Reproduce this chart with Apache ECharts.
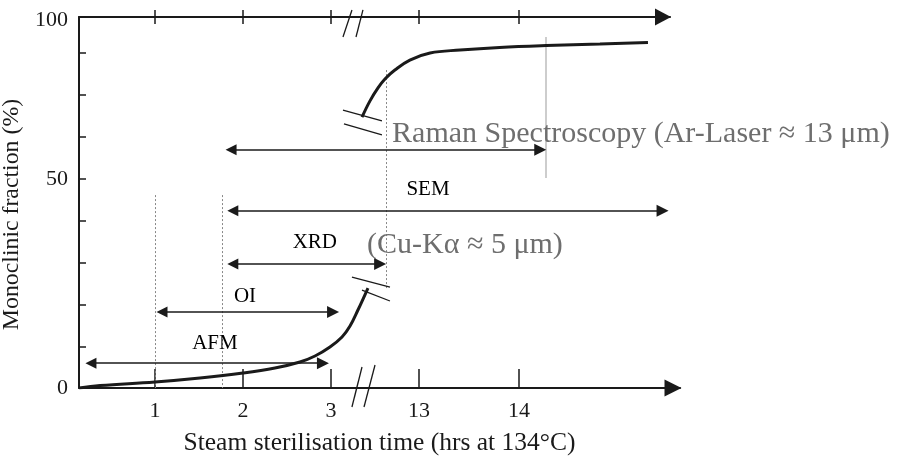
<!DOCTYPE html>
<html>
<head>
<meta charset="utf-8">
<script src="https://cdn.jsdelivr.net/npm/echarts@6/dist/echarts.min.js"></script>
<style>
html,body{margin:0;padding:0;background:#fff;}
#chart{width:899px;height:457px;}
</style>
</head>
<body>
<div id="chart"></div>
<script>
// ---- data (schematic axis units) ----
const xTickPos = [0.864, 1.864, 2.864, 3.864, 5.0];
const xTickLabels = ['1', '2', '3', '13', '14'];
const yTickPos = [0, 11.1, 22.4, 33.7, 45, 56.3, 67.7, 79, 90.3, 100];
const yLabelPos = [0, 56.3, 99];
const yLabelText = ['0', '50', '100'];

const lowerCurve = [[0,0],[0.239,0.67],[0.864,1.62],[1.375,2.70],[1.864,4.04],[2.227,5.39],[2.511,7.01],[2.682,8.63],[2.852,11.05],[2.989,13.75],[3.08,16.71],[3.17,21.02],[3.284,26.95]];
const upperCurve = [[3.216,73.0],[3.307,77.4],[3.398,80.9],[3.477,83.3],[3.59,85.7],[3.76,88.4],[3.99,90.3],[4.33,91.1],[4.78,91.8],[5.31,92.3],[5.92,92.7],[6.466,93.1]];

const rangeNames  = ['Raman', 'SEM', 'XRD', 'OI', 'AFM'];
const rangeStart  = [1.66, 1.68, 1.68, 0.875, 0.068];
const rangeEnd    = [5.31, 6.70, 3.49, 2.955, 2.84];
const rangeLevel  = [64.2, 47.8, 33.4, 20.5, 6.7];

const labelTexts = ['SEM', 'XRD', 'OI', 'AFM'];
const labelX     = [3.966, 2.68, 1.886, 1.545];
const labelY     = [53.6, 39.1, 24.8, 11.9];

const noteTexts = ['Raman Spectroscopy (Ar-Laser \u2248 13 \u03bcm)', '(Cu-K\u03b1 \u2248 5 \u03bcm)'];
const noteX     = [6.386, 4.386];
const noteY     = [68.3, 38.5];

const dottedGuides = [[[0.864,52],[0.864,0]], [[1.63,52],[1.63,0]], [[3.49,85.7],[3.49,26.4]]];
const solidGuides  = [[[5.31,94.6],[5.31,56.6]]];

const breakMarks = [
  [[3.102,-5.12],[3.216,5.66]], [[3.239,-5.12],[3.364,6.2]],
  [[3.0,94.6],[3.102,101.9]], [[3.148,94.6],[3.227,101.9]],
  [[3.102,29.9],[3.534,27.2]], [[3.216,26.4],[3.534,23.45]],
  [[3.0,74.9],[3.443,72.0]], [[3.011,71.2],[3.443,68.2]]
];

// ---- chart ----
const SERIF = 'Liberation Serif';
const INK = '#1a1a1a';
const HEAD_INSET = 0.068; // keep triangle tips on the range ends (half a head length)
function fmtX(v){ for (let i=0;i<xTickPos.length;i++){ if (Math.abs(v-xTickPos[i])<1e-6) return xTickLabels[i]; } return ''; }
function fmtY(v){ for (let i=0;i<yLabelPos.length;i++){ if (Math.abs(v-yLabelPos[i])<1e-6) return yLabelText[i]; } return ''; }

const arrows = rangeNames.map((n,i)=>({name:n, coords:[[rangeStart[i]+HEAD_INSET,rangeLevel[i]],[rangeEnd[i]-HEAD_INSET,rangeLevel[i]]]}));
const labels = labelTexts.map((t,i)=>({name:t, value:[labelX[i],labelY[i]]}));
const notes = noteTexts.map((t,i)=>({name:t, value:[noteX[i],noteY[i]]}));

const chart = echarts.init(document.getElementById('chart'), null, {renderer:'canvas'});
chart.setOption({
  animation:false,
  backgroundColor:'#fff',
  grid:[
    {left:79, top:17, right:219, bottom:69, containLabel:false, outerBoundsMode:'none'},
    {left:79, top:17, right:229, bottom:69, containLabel:false, outerBoundsMode:'none'}
  ],
  xAxis:[
    {type:'value', gridIndex:0, min:0, max:6.83, position:'bottom',
     name:'Steam sterilisation time (hrs at 134\u00b0C)', nameLocation:'middle', nameGap:42,
     nameTextStyle:{fontFamily:SERIF, fontSize:25.5, color:INK},
     axisLine:{show:true, onZero:false, symbol:['none','triangle'], symbolSize:[17,17], symbolOffset:[0,-7], lineStyle:{color:INK, width:2}},
     axisTick:{show:true, inside:true, length:19, customValues:xTickPos, lineStyle:{color:INK, width:1.5}},
     axisLabel:{show:true, customValues:xTickPos, formatter:fmtX, margin:12, fontFamily:SERIF, fontSize:22, color:INK},
     splitLine:{show:false}},
    {type:'value', gridIndex:1, min:0, max:6.716, position:'top',
     axisLine:{show:true, onZero:false, symbol:['none','triangle'], symbolSize:[17,16], symbolOffset:[0,-7], lineStyle:{color:INK, width:2}},
     axisTick:{show:true, inside:false, length:7, customValues:xTickPos, lineStyle:{color:INK, width:1.5}},
     axisLabel:{show:false}, splitLine:{show:false}},
    {type:'value', gridIndex:1, min:0, max:6.716, position:'top',
     axisLine:{show:false, onZero:false},
     axisTick:{show:true, inside:true, length:7, customValues:xTickPos, lineStyle:{color:INK, width:1.5}},
     axisLabel:{show:false}, splitLine:{show:false}}
  ],
  yAxis:[
    {type:'value', gridIndex:0, min:0, max:100,
     name:'Monoclinic fraction (%)', nameLocation:'middle', nameGap:47, nameRotate:90,
     nameTextStyle:{fontFamily:SERIF, fontSize:23.8, color:INK, padding:[0,24,0,0]},
     axisLine:{show:true, onZero:false, lineStyle:{color:INK, width:2}},
     axisTick:{show:true, inside:true, length:7, customValues:yTickPos, lineStyle:{color:INK, width:1.5}},
     axisLabel:{show:true, customValues:yLabelPos, formatter:fmtY, margin:11, fontFamily:SERIF, fontSize:22, color:INK, verticalAlign:'middle', padding:[6,0,0,0]},
     splitLine:{show:false}},
    {type:'value', gridIndex:1, min:0, max:100, show:false}
  ],
  series:[
    {type:'lines', coordinateSystem:'cartesian2d', xAxisIndex:0, yAxisIndex:0, clip:false, silent:true,
     symbol:'none', lineStyle:{color:'#888', width:1, type:[2,2], opacity:1},
     data:dottedGuides.map(c=>({coords:c}))},
    {type:'lines', coordinateSystem:'cartesian2d', xAxisIndex:0, yAxisIndex:0, clip:false, silent:true,
     symbol:'none', lineStyle:{color:'#bdbdbd', width:1.5, opacity:1},
     data:solidGuides.map(c=>({coords:c}))},
    {type:'line', xAxisIndex:0, yAxisIndex:0, data:lowerCurve, smooth:0.4, showSymbol:false, symbol:'none',
     lineStyle:{color:INK, width:3}},
    {type:'line', xAxisIndex:0, yAxisIndex:0, data:upperCurve, smooth:0.4, showSymbol:false, symbol:'none',
     lineStyle:{color:INK, width:3}},
    {type:'lines', coordinateSystem:'cartesian2d', xAxisIndex:0, yAxisIndex:0, clip:false, silent:true,
     symbol:'none', lineStyle:{color:INK, width:1.3, opacity:1},
     data:breakMarks.map(c=>({coords:c}))},
    {type:'lines', coordinateSystem:'cartesian2d', xAxisIndex:0, yAxisIndex:0, clip:false, silent:true,
     symbol:['triangle','triangle'], symbolSize:[11,12], lineStyle:{color:INK, width:1.5, opacity:1},
     data:arrows},
    {type:'scatter', xAxisIndex:0, yAxisIndex:0, symbolSize:0, silent:true, itemStyle:{opacity:1},
     label:{show:true, position:'inside', formatter:'{b}', fontFamily:SERIF, fontSize:21, color:'#000', opacity:1},
     data:labels},
    {type:'scatter', xAxisIndex:0, yAxisIndex:0, symbolSize:0, silent:true, itemStyle:{opacity:1},
     label:{show:true, position:'inside', formatter:'{b}', fontFamily:SERIF, fontSize:30, color:'#6e6e6e', opacity:1},
     data:notes}
  ]
});
</script>
</body>
</html>
